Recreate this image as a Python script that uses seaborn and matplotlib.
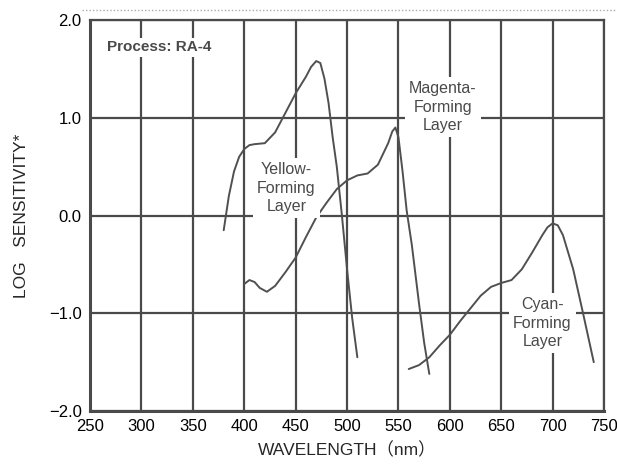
import numpy as np
import pandas as pd
import seaborn as sns
import matplotlib.pyplot as plt
from matplotlib.lines import Line2D

# spectral sensitivity curves
yellow_nm = [380, 385, 390, 395, 400, 405, 410, 420, 430, 440, 450, 460, 465, 470, 474, 478, 482, 486, 490, 495, 500, 505, 510]
yellow_log = [-0.15, 0.2, 0.45, 0.6, 0.68, 0.72, 0.73, 0.74, 0.85, 1.05, 1.25, 1.42, 1.52, 1.58, 1.56, 1.4, 1.15, 0.8, 0.5, 0.0, -0.55, -1.05, -1.45]

magenta_nm = [400, 405, 410, 415, 422, 430, 440, 450, 460, 470, 480, 490, 500, 510, 520, 530, 540, 544, 547, 550, 554, 558, 563, 570, 575, 580]
magenta_log = [-0.70, -0.66, -0.68, -0.74, -0.78, -0.72, -0.58, -0.43, -0.22, -0.02, 0.13, 0.27, 0.36, 0.41, 0.43, 0.52, 0.74, 0.86, 0.90, 0.80, 0.45, 0.05, -0.3, -0.9, -1.3, -1.62]

cyan_nm = [560, 570, 580, 590, 600, 610, 620, 630, 640, 650, 660, 670, 680, 690, 695, 700, 705, 710, 720, 730, 740]
cyan_log = [-1.57, -1.53, -1.45, -1.33, -1.22, -1.08, -0.95, -0.82, -0.73, -0.69, -0.66, -0.55, -0.38, -0.2, -0.12, -0.08, -0.10, -0.20, -0.55, -1.02, -1.5]

x_ticks = [250, 300, 350, 400, 450, 500, 550, 600, 650, 700, 750]
y_ticks = [-2.0, -1.0, 0.0, 1.0, 2.0]
y_labels = ["\u22122.0", "\u22121.0", "0.0", "1.0", "2.0"]

layer_names = ["Yellow-\nForming\nLayer", "Magenta-\nForming\nLayer", "Cyan-\nForming\nLayer"]
layer_x = [441, 593, 690]
layer_y = [0.28, 1.11, -1.1]

sns.set_style("white")
plt.rcParams['font.family'] = ['Liberation Sans', 'Noto Sans CJK JP', 'DejaVu Sans']

df = pd.concat([
    pd.DataFrame({'nm': yellow_nm, 'log': yellow_log, 'layer': 'yellow'}),
    pd.DataFrame({'nm': magenta_nm, 'log': magenta_log, 'layer': 'magenta'}),
    pd.DataFrame({'nm': cyan_nm, 'log': cyan_log, 'layer': 'cyan'}),
], ignore_index=True)

fig = plt.figure(figsize=(6.17, 4.65), dpi=100)
ax = fig.add_axes([0.146, 0.116, 0.833, 0.841])

ax.set_xlim(250, 750)
ax.set_ylim(-2, 2)
ax.set_xticks(x_ticks)
ax.set_yticks(y_ticks)
ax.set_yticklabels(y_labels)
ax.grid(True, color='#4a4a4a', linewidth=1.6)
ax.set_axisbelow(True)
ax.tick_params(length=0, labelsize=12, colors='black', pad=6)

sns.lineplot(data=df, x='nm', y='log', units='layer', estimator=None,
             color='#505050', linewidth=1.4, sort=False, ax=ax, legend=False)

for s in ax.spines.values():
    s.set_visible(True)
    s.set_color('#4a4a4a')
    s.set_linewidth(1.6)
ax.spines['left'].set_linewidth(2.2)
ax.spines['bottom'].set_linewidth(2.2)

ax.set_xlabel("WAVELENGTH\uff08nm\uff09", fontsize=12.5, labelpad=5)
ax.set_ylabel("LOG   SENSITIVITY*", fontsize=12.5, labelpad=14)

ax.text(266, 1.72, "Process: RA-4", fontsize=11, fontweight='bold', color='#4a4a4a',
        va='center', ha='left', bbox=dict(facecolor='white', edgecolor='none', pad=2))

for name, lx, ly in zip(layer_names, layer_x, layer_y):
    ax.text(lx, ly, name, fontsize=11.5, color='#4a4a4a', ha='center', va='center',
            linespacing=1.3, bbox=dict(facecolor='white', edgecolor='none', pad=3))

# dotted rule above the plot
fig.add_artist(Line2D([0.133, 1.0], [0.978, 0.978], transform=fig.transFigure,
                      color='#aaaaaa', linestyle=(0, (1, 1.5)), linewidth=1))

fig.savefig("out.png", dpi=100)
